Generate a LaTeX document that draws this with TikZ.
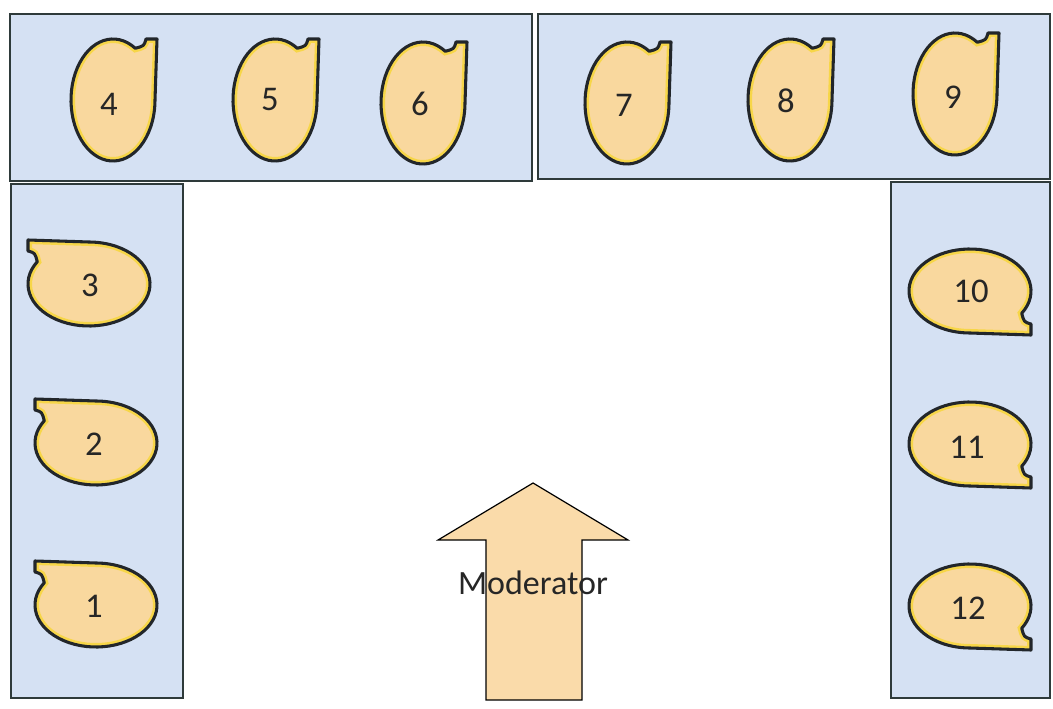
\documentclass[tikz,border=0pt]{standalone}
\usepackage{fontspec}
\setmainfont{Carlito}
\definecolor{tableblue}{HTML}{D5E1F3}
\definecolor{tableedge}{HTML}{2E3A3A}
\definecolor{seatfill}{HTML}{F9D89E}
\definecolor{seatglow}{HTML}{F7D63A}
\definecolor{seatedge}{HTML}{22262A}
\definecolor{arrowfill}{HTML}{FADBAA}
\definecolor{txt}{HTML}{262626}
\tikzset{
  tablebox/.style={fill=tableblue, draw=tableedge, line width=1.9pt},
  seatnum/.style={font=\fontsize{26}{30}\selectfont, text=txt, inner sep=0pt},
  modlabel/.style={font=\fontsize{25.5}{30}\selectfont, text=txt, inner sep=0pt},
  modarrow/.style={fill=arrowfill, draw=black, line width=0.9pt, line join=miter},
  bubble/.pic={
    \path[fill=seatfill] (-58:42 and 61) arc[start angle=-58, end angle=-360, x radius=42, y radius=61]
      -- (44,-61) -- (33,-61) .. controls (31,-54) .. (-58:42 and 61) -- cycle;
    \begin{scope}
      \clip (-58:42 and 61) arc[start angle=-58, end angle=-360, x radius=42, y radius=61]
        -- (44,-61) -- (33,-61) .. controls (31,-54) .. (-58:42 and 61) -- cycle;
      \draw[seatglow, line width=6pt, opacity=0.85] (-58:42 and 61) arc[start angle=-58, end angle=-360, x radius=42, y radius=61]
        -- (44,-61) -- (33,-61) .. controls (31,-54) .. (-58:42 and 61) -- cycle;
    \end{scope}
    \draw[seatedge, line width=2.3pt, line join=round] (-58:42 and 61) arc[start angle=-58, end angle=-360, x radius=42, y radius=61]
      -- (44,-61) -- (33,-61) .. controls (31,-54) .. (-58:42 and 61) -- cycle;
  }
}
\begin{document}
\begin{tikzpicture}[x=0.75pt, y=-0.75pt]
\useasboundingbox (0,0) rectangle (1053,709);
\fill[white] (0,0) rectangle (1053,709);
% tables
\draw[tablebox] (10,14) rectangle (532,181);
\draw[tablebox] (538,14) rectangle (1050,179);
\draw[tablebox] (11,184) rectangle (183,698);
\draw[tablebox] (891,182) rectangle (1050,698);
% top seats
\pic (s4) at (113,100) {bubble};
\pic (s5) at (275,100) {bubble};
\pic (s6) at (423,103) {bubble};
\pic (s7) at (627,103) {bubble};
\pic (s8) at (790,100) {bubble};
\pic (s9) at (955,94) {bubble};
% left seats
\pic[rotate=90] (s3) at (89,284) {bubble};
\pic[rotate=90] (s2) at (96,443) {bubble};
\pic[rotate=90] (s1) at (96,605) {bubble};
% right seats
\pic[rotate=-90] (s10) at (970,291) {bubble};
\pic[rotate=-90] (s11) at (970,444) {bubble};
\pic[rotate=-90] (s12) at (970,606) {bubble};
% numbers
\node[seatnum] (n4) at (109,104) {4};
\node[seatnum] (n5) at (270,100) {5};
\node[seatnum] (n6) at (420,104) {6};
\node[seatnum] (n7) at (624,105) {7};
\node[seatnum] (n8) at (786,101) {8};
\node[seatnum] (n9) at (953,97) {9};
\node[seatnum] (n3) at (90,285) {3};
\node[seatnum] (n2) at (94,444) {2};
\node[seatnum] (n1) at (94,606) {1};
\node[seatnum] (n10) at (971,291) {10};
\node[seatnum] (n11) at (967,447) {11};
\node[seatnum] (n12) at (968,608) {12};
% moderator arrow
\draw[modarrow] (533,483) -- (628,540) -- (582,540) -- (582,700) -- (486,700) -- (486,540) -- (438,540) -- cycle;
\node[modlabel] (mod) at (533,583) {Moderator};
\end{tikzpicture}
\end{document}
